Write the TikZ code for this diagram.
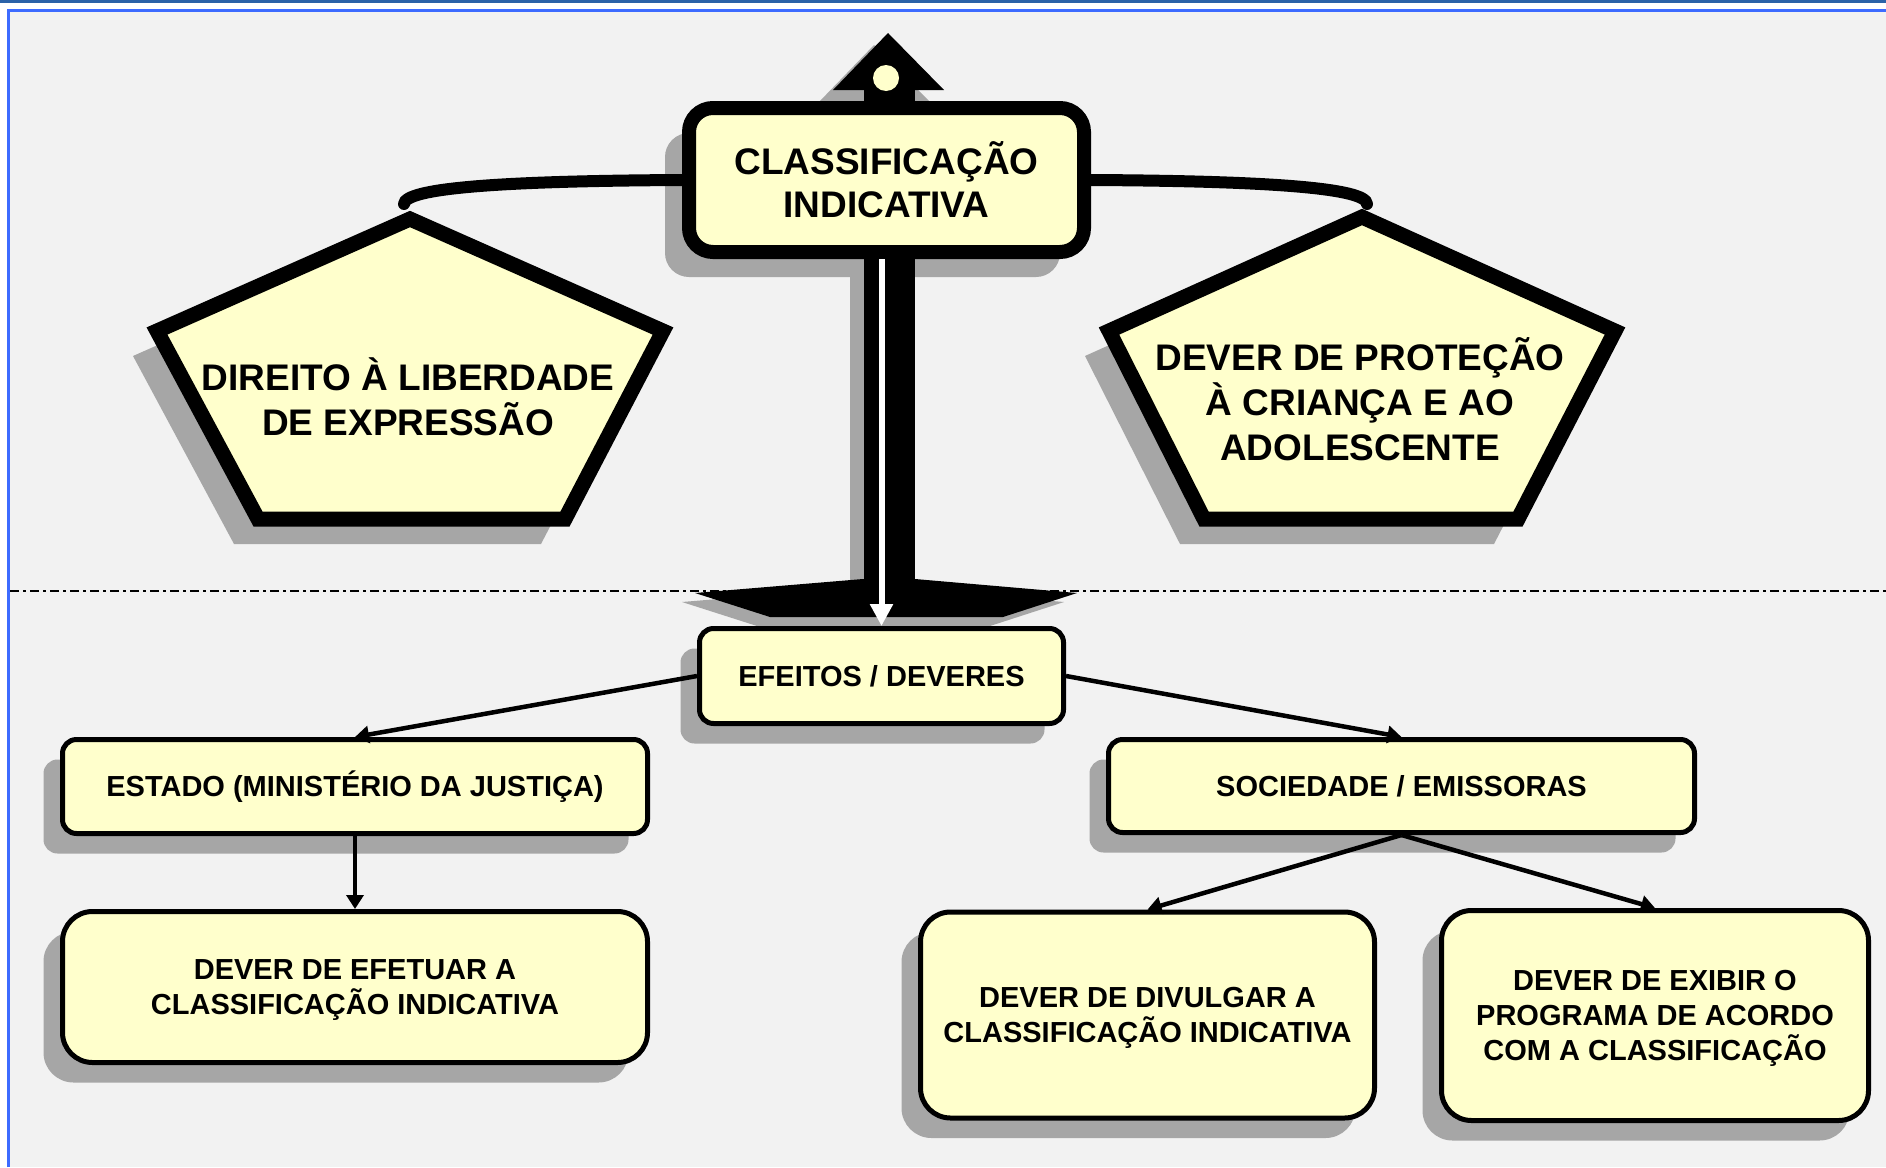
\documentclass[tikz,border=0pt]{standalone}
\usepackage{fontspec}
\setmainfont{Liberation Sans}
\usetikzlibrary{arrows.meta,shadows}
\definecolor{boxfill}{HTML}{FFFFCC}
\definecolor{pagegray}{HTML}{F2F2F2}
\definecolor{frameblue}{HTML}{3D6BFF}
\definecolor{topband}{HTML}{2B62A8}
\definecolor{shadowgray}{HTML}{A6A6A6}
\begin{document}
\begin{tikzpicture}
[x=1pt,y=-1pt,
  shadowthick/.style={drop shadow={shadow xshift=-24pt,shadow yshift=-25pt,fill=shadowgray,opacity=1}},%
  shadowthin/.style={drop shadow={shadow xshift=-19pt,shadow yshift=-20pt,fill=shadowgray,opacity=1}},%
  titledecorate/.style={shape=rectangle,rounded corners=24pt,draw,line width=14pt,fill=boxfill,shadowthick,
    align=center,inner sep=0pt,minimum width=395pt,minimum height=144pt,font=\fontsize{37}{43}\selectfont\bfseries},%
  pentadecorate/.style={draw,line width=15pt,line join=miter,fill=boxfill,shadowthick},%
  pentatext/.style={align=center,inner sep=0pt,font=\fontsize{37}{45}\selectfont\bfseries},%
  boxdecorate/.style={shape=rectangle,rounded corners=14pt,draw,line width=5pt,fill=boxfill,shadowthin,
    align=center,inner sep=0pt,font=\fontsize{29}{35}\selectfont\bfseries},%
  bigboxdecorate/.style={boxdecorate,rounded corners=30pt,text depth=-9pt},%
  linedecorate/.style={-{Triangle[length=14pt,width=17pt]},line width=4.5pt},%
  beamdecorate/.style={line width=12pt,line cap=round},%
  whitearrow/.style={draw=white,line width=6pt,-{Triangle[length=22pt,width=22pt]}},%
  scaleshadow/.style={drop shadow={shadow xshift=-14pt,shadow yshift=-12pt,fill=shadowgray,opacity=1}}]
\useasboundingbox (0,0) rectangle (1886,1167);
%% page and frame
\fill[white] (0,0) rectangle (1886,1167);
\fill[pagegray] (10,11) rectangle (1886,1167);
\fill[topband] (0,0) rectangle (1886,3);
\draw[frameblue,line width=2.7pt] (8.7,1167) -- (8.7,10.3) -- (1886,10.3);
%% dash-dot separator
\draw[line width=1.5pt,dash pattern=on 9pt off 4pt on 3pt off 4pt] (10,591) -- (1886,591);
%% top of the scale
\fill[black,scaleshadow] (833,90) -- (888,33) -- (944,90) -- cycle;
\fill[black] (864,88) rectangle (915,102);
\fill[boxfill] (886,78) circle (13pt);
%% title box
\node (classif) at (886.5,180) [titledecorate] {CLASSIFICAÇÃO\\INDICATIVA};
%% pole and foot
\fill[black,scaleshadow] (864,259) rectangle (915,588);
\fill[black,drop shadow={shadow xshift=-13pt,shadow yshift=-9pt,fill=shadowgray,opacity=1}]
  (695,593) -- (863,579) -- (915,579) -- (1077,593) -- (1003,617) -- (770,617) -- cycle;
%% pans
\filldraw[pentadecorate] (410,219) -- (663,331) -- (565,519) -- (258,519) -- (157,331) -- cycle;
\filldraw[pentadecorate] (1362,217) -- (1615,331) -- (1518,519) -- (1204,519) -- (1109,331) -- cycle;
\node (direito) at (408,397) [pentatext] {DIREITO À LIBERDADE\\DE EXPRESSÃO};
\node (protecao) at (1360,399) [pentatext] {DEVER DE PROTEÇÃO\\À CRIANÇA E AO\\ADOLESCENTE};
%% beam
\draw[beamdecorate] (classif.west) .. controls (500,181) and (405,188) .. (404,204);
\draw[beamdecorate] (classif.east) .. controls (1270,181) and (1366,188) .. (1367,204);
%% effects
\node (efeitos) at (881.5,676) [boxdecorate,minimum width=364pt,minimum height=95pt] {EFEITOS / DEVERES};
\node (estado) at (355,786.5) [boxdecorate,minimum width=585pt,minimum height=94pt] {ESTADO (MINISTÉRIO DA JUSTIÇA)};
\node (sociedade) at (1401.5,786) [boxdecorate,minimum width=586pt,minimum height=93pt] {SOCIEDADE / EMISSORAS};
\node (efetuar) at (355,987) [bigboxdecorate,minimum width=585pt,minimum height=151pt] {DEVER DE EFETUAR A\\CLASSIFICAÇÃO INDICATIVA};
\node (divulgar) at (1147.5,1015) [bigboxdecorate,minimum width=454pt,minimum height=206pt] {DEVER DE DIVULGAR A\\CLASSIFICAÇÃO INDICATIVA};
\node (exibir) at (1655,1015.5) [bigboxdecorate,minimum width=427pt,minimum height=210pt] {DEVER DE EXIBIR O\\PROGRAMA DE ACORDO\\COM A CLASSIFICAÇÃO};
%% white pointer
\draw[whitearrow] (efeitos.north |- classif.south) -- (efeitos.north);
%% connectors
\path
\foreach \startnode/\endnode in {efeitos.west/estado.north, efeitos.east/sociedade.north,
  estado.south/efetuar.north, sociedade.south/divulgar.north, sociedade.south/exibir.north} {
  (\startnode) edge[linedecorate] (\endnode)
};
\end{tikzpicture}
\end{document}
